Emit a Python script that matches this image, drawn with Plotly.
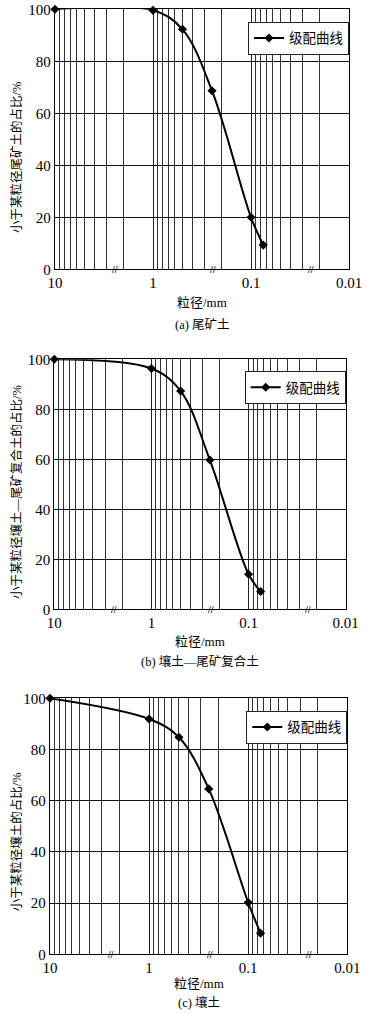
import math
import plotly.graph_objects as go

# ---- data ----
sizes = [10, 1, 0.5, 0.25, 0.1, 0.075]
pct_a = [100, 99.6, 92.3, 68.7, 20.0, 9.3]
pct_b = [100, 96.3, 87.3, 59.7, 14.0, 7.1]
pct_c = [100, 91.9, 84.8, 64.6, 20.2, 8.2]
series_name = "级配曲线"
y_titles = ["小于某粒径尾矿土的占比/%", "小于某粒径壤土—尾矿复合土的占比/%", "小于某粒径壤土的占比/%"]
captions = ["(a) 尾矿土", "(b) 壤土—尾矿复合土", "(c) 壤土"]
x_title = "粒径/mm"
x_tickvals = [10, 1, 0.1, 0.01]
x_ticktext = ["10", "1", "0.1", "0.01"]
y_tickvals = [0, 20, 40, 60, 80, 100]
break_vals = [2.45, 0.245, 0.0245]

W, H = 370, 1015
FONT = "Liberation Serif, Times New Roman, Noto Sans CJK SC, serif"


def px(x):
    return x / W


def py(y):
    return 1 - y / H


# pixel boxes in the window: (left, right, top, bottom)
boxes = [(55, 349, 9.3, 269.3), (54.3, 345.7, 359.3, 609.3), (50, 347.3, 698.3, 954.3)]
legend_tops = [21.7, 371, 710.7]
xtitle_y = [302, 641.7, 983.3]
caption_y = [325, 661.7, 1002.3]
ytitle_c = [157.5, 492.5, 841.7]

minor_vals = []
for d in [1, 0.1, 0.01]:
    for k in range(2, 10):
        minor_vals.append(round(k * d, 6))

fig = go.Figure()
data = [pct_a, pct_b, pct_c]
annotations = []
layout = {}
for i in range(3):
    sfx = "" if i == 0 else str(i + 1)
    l, r, t, b = boxes[i]
    fig.add_trace(go.Scatter(
        x=sizes, y=data[i], mode="lines+markers", name=series_name,
        line=dict(color="black", width=2, shape="spline"),
        marker=dict(symbol="diamond", size=7, color="black"),
        xaxis="x" + sfx, yaxis="y" + sfx, showlegend=True,
        legend="legend" + sfx, cliponaxis=False,
    ))
    layout["xaxis" + sfx] = dict(
        type="log", range=[1, -2], domain=[px(l), px(r)], anchor="y" + sfx,
        tickmode="array", tickvals=x_tickvals, ticktext=x_ticktext,
        showgrid=True, gridcolor="#222", gridwidth=1.3,
        minor=dict(tickmode="array", tickvals=minor_vals, showgrid=True,
                   gridcolor="#333", gridwidth=1.2),
        showline=True, linecolor="black", linewidth=1.3, mirror=True,
        ticks="", zeroline=False, automargin=False,
        tickfont=dict(family=FONT, size=15, color="black"),
    )
    layout["yaxis" + sfx] = dict(
        range=[0, 100], domain=[py(b), py(t)], anchor="x" + sfx,
        tickmode="array", tickvals=y_tickvals,
        showgrid=True, gridcolor="#111", gridwidth=1.4,
        showline=True, linecolor="black", linewidth=1.3, mirror=True,
        ticks="", zeroline=False, automargin=False,
        tickfont=dict(family=FONT, size=15, color="black"),
    )
    layout["legend" + sfx] = dict(
        x=px(r), xanchor="right", y=py(legend_tops[i]), yanchor="top",
        xref="paper", yref="paper", visible=True,
        bgcolor="white", bordercolor="#222", borderwidth=1,
        font=dict(family=FONT, size=13.5, color="black"),
        itemwidth=30,
    )
    annotations.append(dict(
        text=y_titles[i], textangle=-90, x=px(16.5), y=py(ytitle_c[i]),
        xref="paper", yref="paper", showarrow=False, xanchor="center", yanchor="middle",
        font=dict(family=FONT, size=12.5, color="black"),
    ))
    annotations.append(dict(
        text=x_title, x=px((l + r) / 2), y=py(xtitle_y[i]),
        xref="paper", yref="paper", showarrow=False, xanchor="center", yanchor="middle",
        font=dict(family=FONT, size=13, color="black"),
    ))
    annotations.append(dict(
        text=captions[i], x=px((l + r) / 2), y=py(caption_y[i]),
        xref="paper", yref="paper", showarrow=False, xanchor="center", yanchor="middle",
        font=dict(family=FONT, size=12.5, color="black"),
    ))
    for bv in break_vals:
        annotations.append(dict(
            text="<b>//</b>", x=math.log10(bv), y=0, xref="x" + sfx, yref="y" + sfx,
            showarrow=False, xanchor="center", yanchor="middle",
            font=dict(family=FONT, size=10, color="black"),
        ))

fig.update_layout(
    width=W, height=H, margin=dict(l=0, r=0, t=0, b=0, pad=0, autoexpand=False),
    paper_bgcolor="white", plot_bgcolor="white", showlegend=True,
    annotations=annotations, **layout,
)
fig.write_html(
    "out.html",
    config={"displayModeBar": False},
    post_script="document.body.style.margin='0';document.body.style.overflow='hidden';",
)
